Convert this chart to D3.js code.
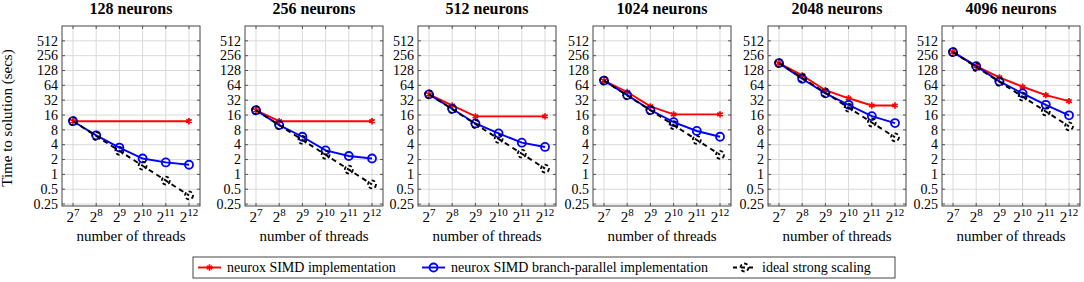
<!DOCTYPE html>
<html lang="en">
<head>
<meta charset="UTF-8">
<title>Strong scaling</title>
<style>
  body { margin: 0; background: #fff; }
  .grid line { stroke: #d9d9d9; stroke-width: 1; }
  .frame { fill: none; stroke: #444; stroke-width: 1; }
</style>
</head>
<body>
<svg id="chart" width="1084" height="282" font-family="'Liberation Serif', 'DejaVu Serif', serif"></svg>
<script src="https://d3js.org/d3.v7.min.js"></script>
<script>
// data
const neurons = ["128", "256", "512", "1024", "2048", "4096"];
const threads = [128, 256, 512, 1024, 2048, 4096];
const threadExp = ["7", "8", "9", "10", "11", "12"];
const yTicks = [0.25, 0.5, 1, 2, 4, 8, 16, 32, 64, 128, 256, 512];
const yTickLabels = ["0.25", "0.5", "1", "2", "4", "8", "16", "32", "64", "128", "256", "512"];

// neurox SIMD implementation (null = no measurement shown)
const simd = [
  [12, null, null, null, null, 12],
  [20, 12, null, null, null, 12],
  [42, 25, 15, null, null, 15],
  [80, 47, 24, 16.5, null, 16.5],
  [181, 102, 51, 35, 25, 25],
  [302, 157, 93, 60, 40.6, 30.7]
];
// neurox SIMD branch-parallel implementation
const branchPar = [
  [12, 6.2, 3.5, 2.1, 1.75, 1.57],
  [20, 10, 5.8, 3.07, 2.36, 2.1],
  [42, 21.4, 10.8, 6.8, 4.4, 3.6],
  [80, 40.5, 20.2, 11.5, 7.6, 5.8],
  [181, 87, 44, 25.8, 15.2, 11],
  [302, 157, 77, 44, 25.8, 15.8]
];
// ideal strong scaling
const ideal = [
  [12, 6, 3, 1.5, 0.75, 0.375],
  [20, 10, 5, 2.5, 1.25, 0.625],
  [42, 21, 10.5, 5.25, 2.63, 1.31],
  [80, 40, 20, 10, 5, 2.5],
  [181, 90.5, 45.3, 22.6, 11.3, 5.66],
  [302, 151, 75.5, 37.8, 18.9, 9.44]
];

const seriesNames = ["neurox SIMD implementation", "neurox SIMD branch-parallel implementation", "ideal strong scaling"];
const seriesColors = ["#ff0000", "#0000ff", "#000000"];

const svg = d3.select("#chart");
const panelLeft = [62, 245, 418, 593, 768, 942];
const panelW = 138, plotTop = 26, plotBottom = 206;

const y = d3.scaleLog().base(2).domain([Math.pow(2, -2.13), 1024]).range([plotBottom, plotTop]);

function drawMarker(g, kind, cx, cy) {
  if (kind === 0) {
    g.append("path")
      .attr("d", d3.symbol().type(d3.symbolAsterisk).size(28)())
      .attr("transform", `translate(${cx},${cy})`)
      .attr("stroke", seriesColors[0]).attr("stroke-width", 1.7).attr("fill", "none");
  } else if (kind === 1) {
    g.append("circle").attr("cx", cx).attr("cy", cy).attr("r", 4)
      .attr("fill", "none").attr("stroke", seriesColors[1]).attr("stroke-width", 1.8);
  } else {
    g.append("circle").attr("cx", cx).attr("cy", cy).attr("r", 4)
      .attr("fill", "none").attr("stroke", seriesColors[2]).attr("stroke-width", 1.8)
      .attr("stroke-dasharray", "3.5,2.5");
  }
}

neurons.forEach((n, p) => {
  const left = panelLeft[p];
  const x = d3.scaleLog().base(2).domain([128, 4096]).range([left + 11, left + panelW - 11]);
  const g = svg.append("g");

  // grid
  const grid = g.append("g").attr("class", "grid");
  grid.selectAll(".gx").data(threads).enter().append("line")
    .attr("x1", d => x(d)).attr("x2", d => x(d)).attr("y1", plotTop).attr("y2", plotBottom);
  grid.selectAll(".gy").data(yTicks).enter().append("line")
    .attr("x1", left).attr("x2", left + panelW).attr("y1", d => y(d)).attr("y2", d => y(d));

  // tick marks inside the frame
  const tk = g.append("g").attr("stroke", "#555").attr("stroke-width", 1);
  threads.forEach(t => {
    tk.append("line").attr("x1", x(t)).attr("x2", x(t)).attr("y1", plotBottom).attr("y2", plotBottom - 3);
    tk.append("line").attr("x1", x(t)).attr("x2", x(t)).attr("y1", plotTop).attr("y2", plotTop + 3);
  });
  yTicks.forEach(v => {
    tk.append("line").attr("x1", left).attr("x2", left + 3).attr("y1", y(v)).attr("y2", y(v));
    tk.append("line").attr("x1", left + panelW).attr("x2", left + panelW - 3).attr("y1", y(v)).attr("y2", y(v));
  });

  g.append("rect").attr("class", "frame")
    .attr("x", left).attr("y", plotTop).attr("width", panelW).attr("height", plotBottom - plotTop);

  // y tick labels
  g.selectAll(".yl").data(yTicks).enter().append("text")
    .attr("x", left - 4).attr("y", d => y(d)).attr("dy", "0.34em")
    .attr("text-anchor", "end").attr("font-size", 14)
    .text((d, i) => yTickLabels[i]);

  // x tick labels 2^k
  threads.forEach((t, i) => {
    const tx = g.append("text").attr("x", x(t)).attr("y", 222)
      .attr("text-anchor", "middle").attr("font-size", 15);
    tx.append("tspan").text("2");
    tx.append("tspan").attr("font-size", 11).attr("dy", -6).text(threadExp[i]);
  });

  g.append("text").attr("x", left + panelW / 2).attr("y", 241)
    .attr("text-anchor", "middle").attr("font-size", 15).text("number of threads");

  g.append("text").attr("x", left + panelW / 2).attr("y", 14)
    .attr("text-anchor", "middle").attr("font-size", 16).attr("font-weight", "bold")
    .text(n + " neurons");

  // series
  [simd[p], branchPar[p], ideal[p]].forEach((vals, s) => {
    const pts = vals.map((v, i) => [threads[i], v]).filter(d => d[1] != null);
    const line = d3.line().x(d => x(d[0])).y(d => y(d[1]));
    const sg = g.append("g");
    sg.append("path").datum(pts).attr("d", line)
      .attr("fill", "none").attr("stroke", seriesColors[s]).attr("stroke-width", 1.9)
      .attr("stroke-dasharray", s === 2 ? "5,4" : null);
    pts.forEach(d => drawMarker(sg, s, x(d[0]), y(d[1])));
  });
});

// y-axis label
svg.append("text").attr("transform", `translate(12,${(plotTop + plotBottom) / 2 + 2}) rotate(-90)`)
  .attr("text-anchor", "middle").attr("font-size", 15).text("Time to solution (secs)");

// legend
const lg = svg.append("g");
lg.append("rect").attr("class", "frame").attr("x", 193).attr("y", 257).attr("width", 702).attr("height", 21);
const legX = [198, 422, 733];
seriesNames.forEach((name, s) => {
  const lx = legX[s], ly = 267.5;
  lg.append("line").attr("x1", lx).attr("x2", lx + 23).attr("y1", ly).attr("y2", ly)
    .attr("stroke", seriesColors[s]).attr("stroke-width", 1.9)
    .attr("stroke-dasharray", s === 2 ? "4,4" : null);
  drawMarker(lg, s, lx + 11.5, ly);
  lg.append("text").attr("x", lx + 29).attr("y", ly).attr("dy", "0.34em")
    .attr("font-size", 14).text(name);
});
</script>
</body>
</html>
